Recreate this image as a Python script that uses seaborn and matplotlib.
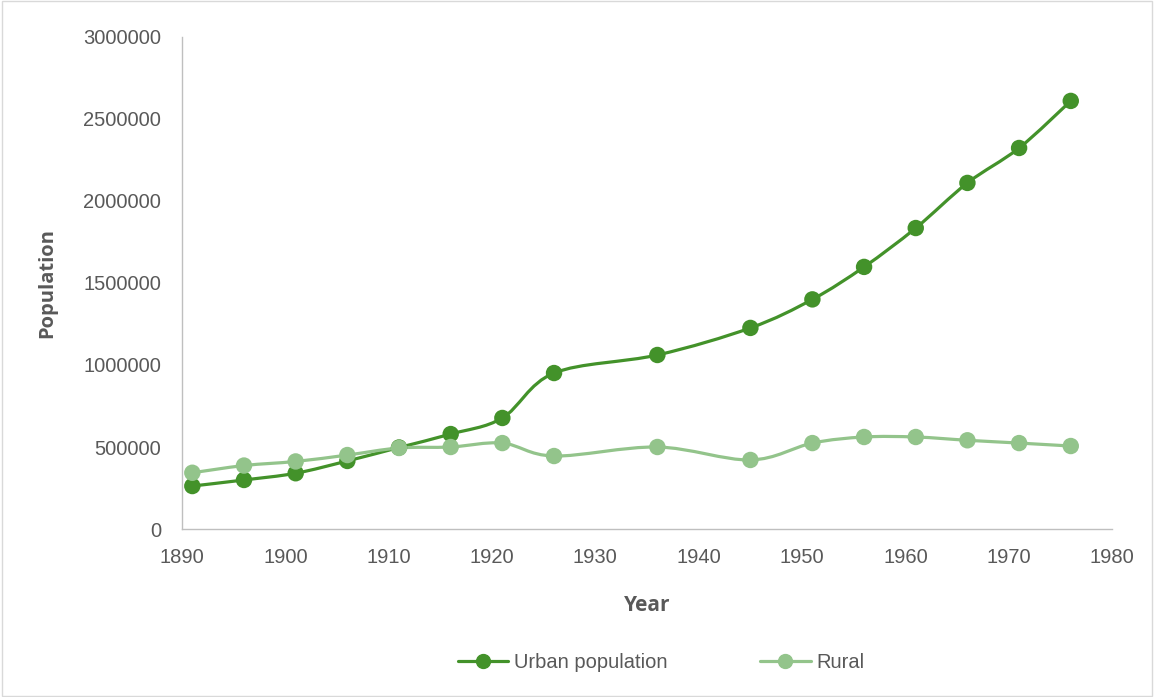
import numpy as np
import pandas as pd
import matplotlib
matplotlib.use('Agg')
import matplotlib.pyplot as plt
from matplotlib.path import Path
from matplotlib.patches import PathPatch
from matplotlib.lines import Line2D
import seaborn as sns

# Data
years = [1891, 1896, 1901, 1906, 1911, 1916, 1921, 1926, 1936, 1945, 1951, 1956, 1961, 1966, 1971, 1976]
urban = [262000, 299000, 340000, 415000, 497000, 579000, 677000, 951000, 1061000, 1226000,
         1400000, 1598000, 1835000, 2110000, 2323000, 2610000]
rural = [343000, 387000, 412000, 451000, 494000, 500000, 524000, 445000, 500000, 421000,
         524000, 561000, 561000, 541000, 524000, 506000]
series_names = ['Urban population', 'Rural']
colors = ['#43922a', '#93c48b']

df = pd.DataFrame({'Year': years, 'Urban population': urban, 'Rural': rural})
long_df = df.melt(id_vars='Year', var_name='Series', value_name='Population')

sns.set_style('white')
plt.rcParams['font.family'] = ['Liberation Sans', 'DejaVu Sans']
text_gray = '#595959'


def smooth_path(x, y):
    # Excel-like smoothed line: cubic Bezier segments through the points
    pts = np.column_stack([x, y]).astype(float)
    n = len(pts)
    verts = [pts[0]]
    codes = [Path.MOVETO]
    for i in range(n - 1):
        p0 = pts[i - 1] if i > 0 else pts[i]
        p1 = pts[i]
        p2 = pts[i + 1]
        p3 = pts[i + 2] if i + 2 < n else pts[i + 1]
        c1 = p1 + (p2 - p0) / 6.0
        c2 = p2 - (p3 - p1) / 6.0
        verts += [c1, c2, p2]
        codes += [Path.CURVE4] * 3
    return Path(verts, codes)


fig = plt.figure(figsize=(11.54, 6.97), dpi=100)
ax = fig.add_axes([0.1577, 0.241, 0.806, 0.706])

for name, col in zip(series_names, colors):
    sub = long_df[long_df.Series == name]
    ax.add_patch(PathPatch(smooth_path(sub.Year, sub.Population), facecolor='none',
                           edgecolor=col, lw=2.3, capstyle='round', joinstyle='round'))
    sns.scatterplot(data=sub, x='Year', y='Population', color=col, s=140,
                    edgecolor='none', ax=ax, legend=False, zorder=3)

ax.set_xlim(1890, 1980)
ax.set_ylim(0, 3000000)
ax.set_xticks(range(1890, 1981, 10))
ax.set_yticks(range(0, 3000001, 500000))
ax.set_yticklabels([f'{v:d}' for v in range(0, 3000001, 500000)])
ax.tick_params(axis='both', length=0, labelsize=14.5, colors=text_gray)
ax.tick_params(axis='x', pad=14)
ax.tick_params(axis='y', pad=15)

for side in ['top', 'right']:
    ax.spines[side].set_visible(False)
for side in ['left', 'bottom']:
    ax.spines[side].set_color('#bfbfbf')
    ax.spines[side].set_linewidth(1.0)

ax.set_xlabel('Year', fontsize=15, fontweight='bold', color=text_gray,
              family=['Open Sans', 'DejaVu Sans'], labelpad=20)
ax.set_ylabel('Population', fontsize=14.5, fontweight='bold', color=text_gray,
              family=['Open Sans', 'DejaVu Sans'], labelpad=19)

handles = [Line2D([0], [0], color=c, lw=2.3, marker='o', markersize=10) for c in colors]
fig.legend(handles, series_names, loc='center', bbox_to_anchor=(0.573, 0.05), ncol=2,
           frameon=False, fontsize=14.5, handlelength=2.5, columnspacing=4.6,
           handletextpad=0.3, labelcolor=text_gray)

# light chart border
fig.patches.append(plt.Rectangle((0.002, 0.002), 0.996, 0.996, transform=fig.transFigure,
                                 fill=False, edgecolor='#d9d9d9', lw=1.0))

fig.savefig('out.png', dpi=100)
